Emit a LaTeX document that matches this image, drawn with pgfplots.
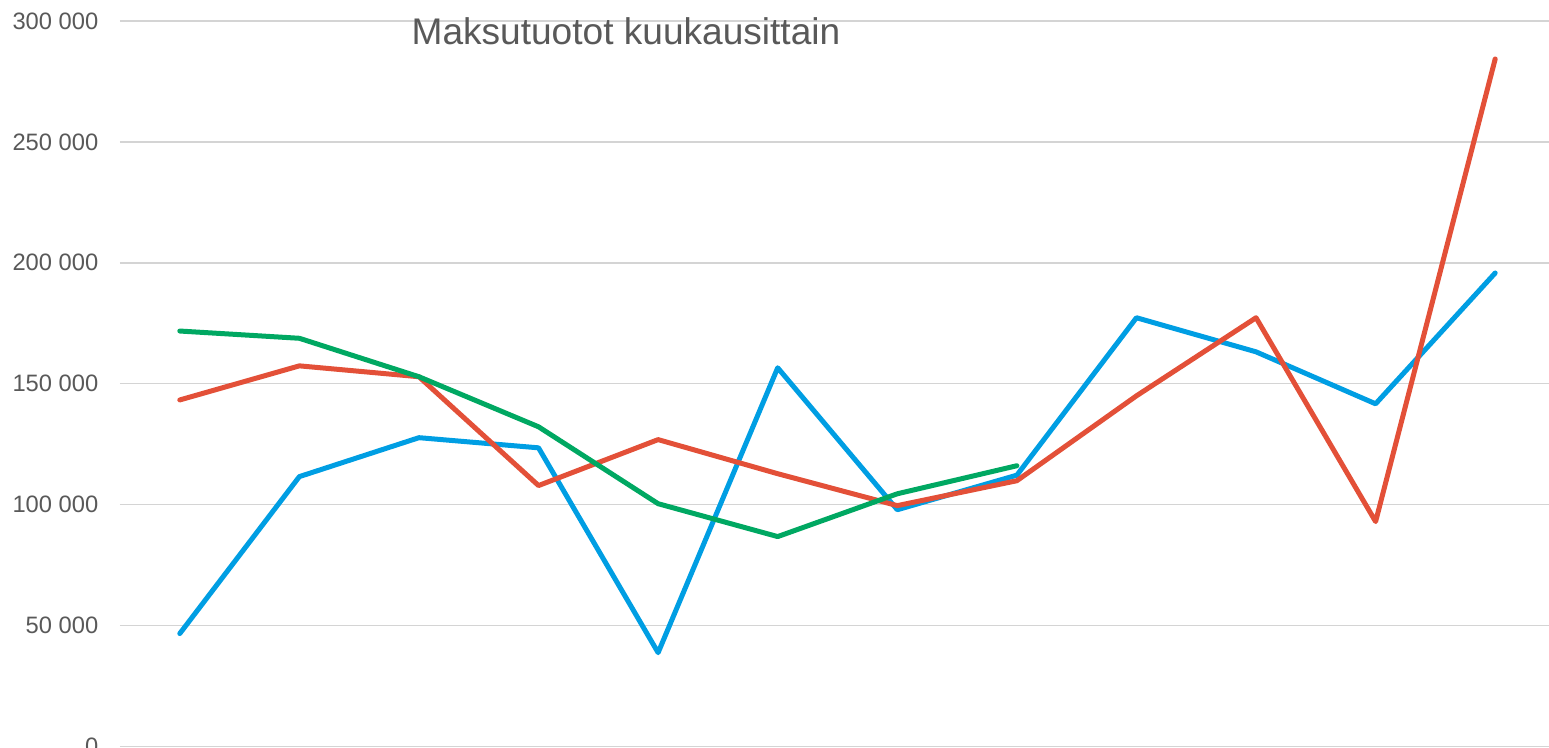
\documentclass[border=0pt]{standalone}
\usepackage{fontspec}
\setmainfont{Liberation Sans}
\usepackage{pgfplots}
\pgfplotsset{compat=1.18}
\definecolor{cblue}{RGB}{0,158,227}
\definecolor{cred}{RGB}{227,80,56}
\definecolor{cgreen}{RGB}{0,168,98}
\definecolor{cgrid}{RGB}{212,212,212}
\definecolor{ctext}{RGB}{89,89,89}
\begin{document}
\begin{tikzpicture}
\path[use as bounding box] (0,0) rectangle (15.49cm,7.47cm);
\begin{axis}[
  at={(1.20cm,0.005cm)}, anchor=south west,
  scale only axis, width=14.35cm, height=7.255cm,
  xmin=-0.5, xmax=11.5, ymin=0, ymax=300000,
  xtick=\empty,
  ytick={0,50000,100000,150000,200000,250000,300000},
  yticklabels={0,50 000,100 000,150 000,200 000,250 000,300 000},
  ymajorgrids, grid style={cgrid, line width=0.15mm},
  axis line style={draw=none}, major tick length=0pt,
  yticklabel style={anchor=east, inner sep=0pt, xshift=-2.1mm, text=ctext, font=\fontsize{6.75pt}{7pt}\selectfont},
  every axis plot/.append style={line width=0.5mm, line cap=round, line join=round, mark=none},
  clip=false,
]
\addplot[cblue] coordinates {(0,46700) (1,111600) (2,127700) (3,123500) (4,38800) (5,156600) (6,97900) (7,112200) (8,177300) (9,163200) (10,141700) (11,195800)};
\addplot[cred] coordinates {(0,143300) (1,157400) (2,152900) (3,107900) (4,126900) (5,112800) (6,99600) (7,109900) (8,145000) (9,177300) (10,93000) (11,284300)};
\addplot[cgreen] coordinates {(0,171800) (1,168800) (2,152900) (3,132200) (4,100400) (5,86800) (6,104500) (7,116100)};
\node[anchor=base, inner sep=0pt, text=ctext, font=\fontsize{10.55pt}{12pt}\selectfont] at (rel axis cs:0.3526,0.967) {Maksutuotot kuukausittain};
\end{axis}
\end{tikzpicture}
\end{document}
